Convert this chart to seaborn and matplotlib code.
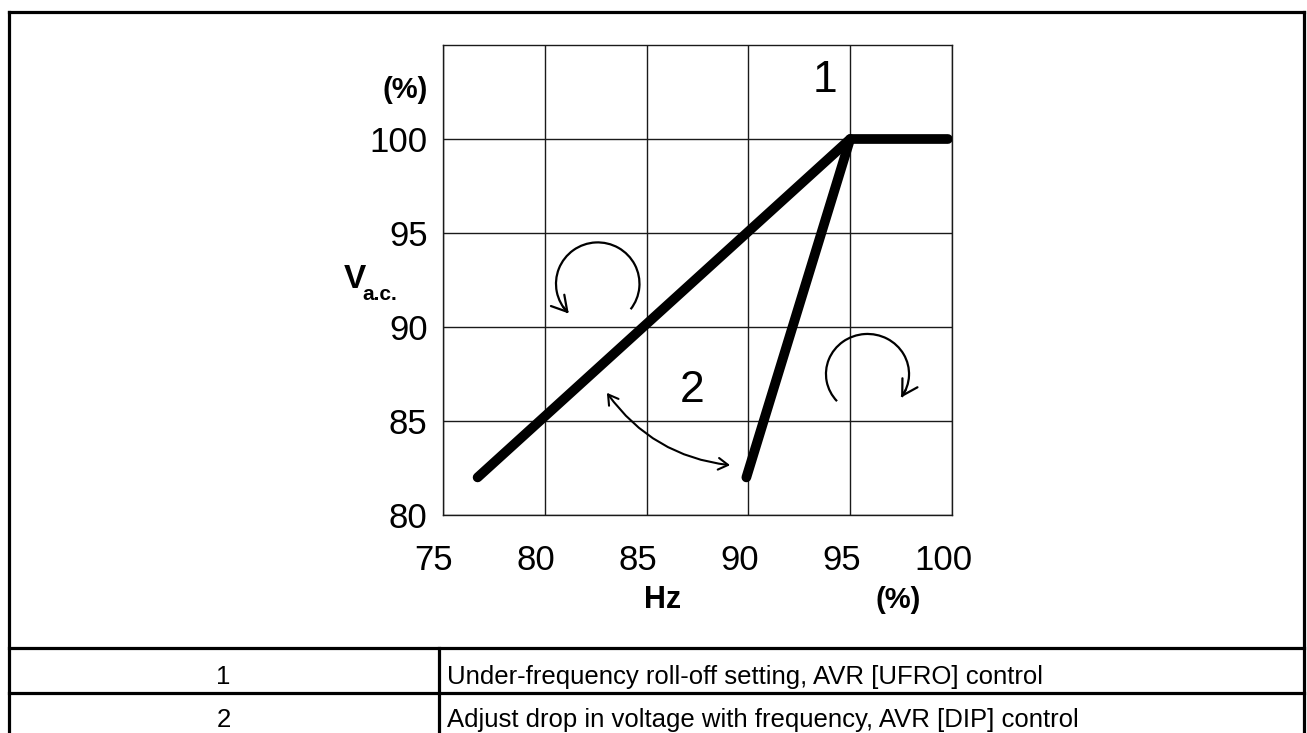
import matplotlib
matplotlib.use("Agg")
import matplotlib.pyplot as plt
import matplotlib.transforms as mtransforms
from matplotlib.lines import Line2D
from matplotlib.patches import Arc
import numpy as np
import pandas as pd
import seaborn as sns

# curve 1: under-frequency roll-off (knee at 95 Hz %)
ufro_hz = [76.7, 95.0, 99.8]
ufro_vac = [82.0, 100.0, 100.0]
# curve 2: steeper dip slope
dip_hz = [89.9, 95.0]
dip_vac = [82.0, 100.0]

x_ticks = [75, 80, 85, 90, 95, 100]
y_ticks = [80, 85, 90, 95, 100]

row_ids = ["1", "2"]
row_texts = [
    "Under-frequency roll-off setting, AVR [UFRO] control",
    "Adjust drop in voltage with frequency, AVR [DIP] control",
]

W, H = 1307, 733


def px(x, y):
    # pixel position (from top-left) -> figure fraction
    return x / W, 1 - y / H


sns.set_theme(style="whitegrid", rc={
    "grid.color": "#1a1a1a",
    "grid.linewidth": 1.0,
    "axes.edgecolor": "#1a1a1a",
    "axes.linewidth": 1.0,
    "text.color": "black",
    "xtick.color": "black",
    "ytick.color": "black",
})
plt.rcParams["font.family"] = ["Liberation Sans", "DejaVu Sans"]

df = pd.concat([
    pd.DataFrame({"hz": ufro_hz, "vac": ufro_vac, "curve": "1"}),
    pd.DataFrame({"hz": dip_hz, "vac": dip_vac, "curve": "2"}),
])

fig = plt.figure(figsize=(W / 100, H / 100), dpi=100)
ax = fig.add_axes([443 / W, 1 - 515 / H, 509 / W, 470 / H])

for name, sub in df.groupby("curve"):
    sns.lineplot(data=sub, x="hz", y="vac", sort=False, color="black",
                 linewidth=7, solid_capstyle="round", ax=ax, zorder=5)

ax.set_xlim(75, 100)
ax.set_ylim(80, 105)
ax.set_xticks(x_ticks)
ax.set_yticks(y_ticks)
ax.set_xlabel("")
ax.set_ylabel("")
ax.tick_params(axis="both", length=0, labelsize=25, labelcolor="black")
ax.tick_params(axis="x", pad=21)
ax.tick_params(axis="y", pad=11)
shift = mtransforms.ScaledTranslation(-9 / 100, 0, fig.dpi_scale_trans)
for lab in ax.get_xticklabels():
    lab.set_transform(lab.get_transform() + shift)

# curve numbers
ax.text(93.76, 103.1, "1", fontsize=32, ha="center", va="center", color="black")
ax.text(87.23, 86.6, "2", fontsize=32, ha="center", va="center", color="black")

# rotation arrows
ax.add_patch(Arc((82.6, 92.3), 4.1, 4.4, theta1=-40, theta2=226, lw=1.6, color="black"))
t = np.radians([214, 226])
ax.annotate("", xy=(82.6 + 2.05 * np.cos(t[1]), 92.3 + 2.2 * np.sin(t[1])),
            xytext=(82.6 + 2.05 * np.cos(t[0]), 92.3 + 2.2 * np.sin(t[0])),
            arrowprops=dict(arrowstyle="->,head_length=0.6,head_width=0.35", lw=1.6,
                            color="black", mutation_scale=18, shrinkA=0, shrinkB=0))

ax.add_patch(Arc((95.85, 87.5), 4.08, 4.26, theta1=-36, theta2=224, lw=1.6, color="black"))
t = np.radians([-24, -36])
ax.annotate("", xy=(95.85 + 2.04 * np.cos(t[1]), 87.5 + 2.13 * np.sin(t[1])),
            xytext=(95.85 + 2.04 * np.cos(t[0]), 87.5 + 2.13 * np.sin(t[0])),
            arrowprops=dict(arrowstyle="->,head_length=0.6,head_width=0.35", lw=1.6,
                            color="black", mutation_scale=18, shrinkA=0, shrinkB=0))

# double-headed arrow between the two curves
ax.annotate("", xy=(89.1, 82.65), xytext=(83.05, 86.5),
            arrowprops=dict(arrowstyle="<->,head_length=0.5,head_width=0.3", lw=1.5,
                            color="black", mutation_scale=14, shrinkA=0, shrinkB=0,
                            connectionstyle="arc3,rad=0.22"))

# axis labels
fig.text(*px(428, 90), "(%)", fontsize=21, weight="bold", ha="right", va="center")
fig.text(*px(355, 279), "V", fontsize=24, weight="bold", ha="center", va="center")
fig.text(*px(380, 294), "a.c.", fontsize=15, weight="bold", ha="center", va="center")
fig.text(*px(663, 600), "Hz", fontsize=22, weight="bold", ha="center", va="center")
fig.text(*px(898, 600), "(%)", fontsize=21, weight="bold", ha="center", va="center")

# outer frame and legend table
frame_kw = dict(color="black", lw=2.3, transform=fig.transFigure, solid_capstyle="projecting")
for xs, ys in [
    ([8.5, 1303.5], [11.5, 11.5]),
    ([8.5, 8.5], [11.5, 740]),
    ([1303.5, 1303.5], [11.5, 740]),
    ([8.5, 1303.5], [647.5, 647.5]),
    ([8.5, 1303.5], [692.5, 692.5]),
    ([438.5, 438.5], [647.5, 740]),
]:
    fig.add_artist(Line2D([x / W for x in xs], [1 - y / H for y in ys], **frame_kw))

for i, (rid, txt) in enumerate(zip(row_ids, row_texts)):
    base = 684 + i * 43
    fig.text(*px(223.5, base), rid, fontsize=18.5, ha="center", va="baseline")
    fig.text(*px(447, base), txt, fontsize=18.5, ha="left", va="baseline")

fig.savefig("out.png", dpi=100, facecolor="white")
